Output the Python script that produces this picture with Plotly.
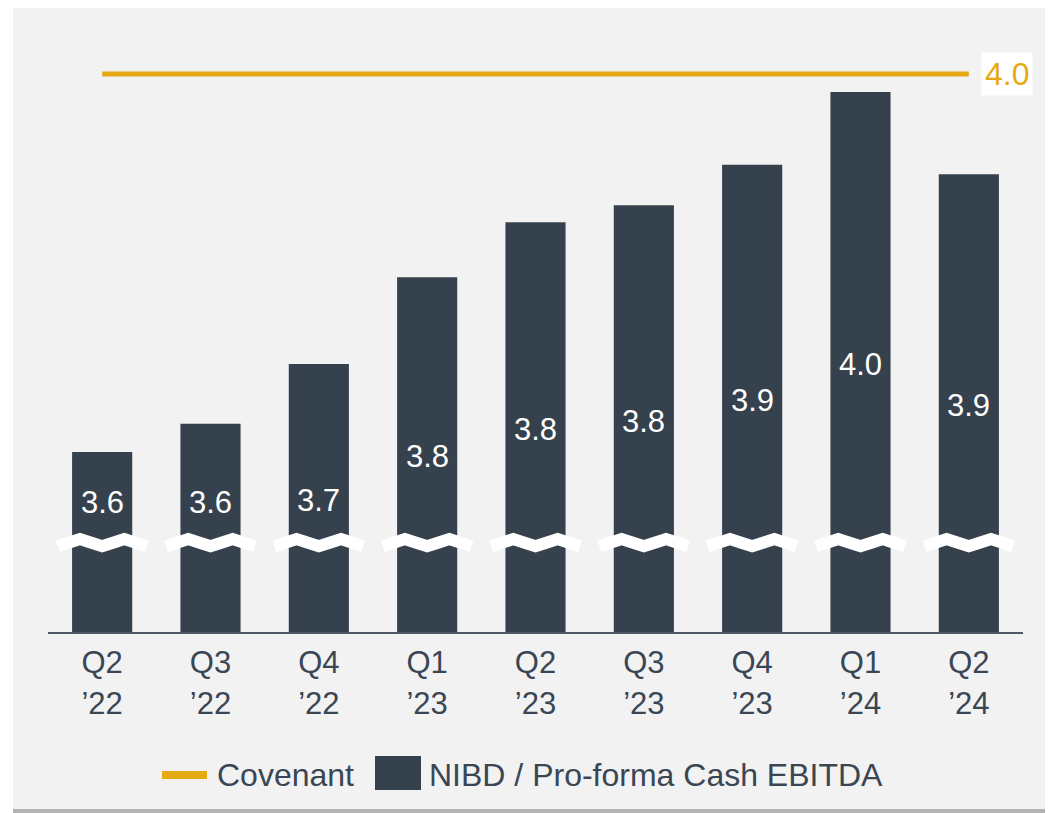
import plotly.graph_objects as go

# ---- data ----
quarters = ["Q2<br>’22", "Q3<br>’22", "Q4<br>’22", "Q1<br>’23", "Q2<br>’23",
            "Q3<br>’23", "Q4<br>’23", "Q1<br>’24", "Q2<br>’24"]
leverage = [3.600, 3.630, 3.693, 3.785, 3.843, 3.861, 3.904, 3.981, 3.894]
leverage_labels = ["3.6", "3.6", "3.7", "3.8", "3.8", "3.8", "3.9", "4.0", "3.9"]
covenant = [4.0, 4.0, 4.0, 4.0, 4.0, 4.0, 4.0, 4.0, 4.0]
covenant_label = "4.0"

# ---- style ----
GOLD = "#E6A813"
BAR = "#36414E"
TEXT = "#3A4654"
PANEL = "#F2F2F2"
FONT = "Liberation Sans, Arial, sans-serif"

y_min = 3.4095
y_max = 4.036
break_val = 3.504

OFF = 8  # page body margin
W, H = 1045, 805
ml, mr, mt, mb = 40, 30, 32, 181
pw = W - ml - mr
ph = H - mt - mb

def px_x(p):
    return (p - OFF - ml) / pw

def px_y(p):
    return (H - mb - (p - OFF)) / ph

xs = list(range(len(quarters)))

fig = go.Figure()

fig.add_trace(go.Bar(
    x=xs, y=leverage, marker=dict(color=BAR, line=dict(width=0)),
    width=0.555, name="NIBD / Pro-forma Cash EBITDA", showlegend=False,
    hoverinfo="skip",
))

# break marks
for i in xs:
    offs = [-0.41, -0.31, -0.205, -0.10, 0.0, 0.10, 0.205, 0.31, 0.41]
    amp = 0.0038
    ys = [break_val - amp, break_val, break_val + amp, break_val, break_val - amp,
          break_val, break_val + amp, break_val, break_val - amp]
    fig.add_trace(go.Scatter(
        x=[i + o for o in offs], y=ys, mode="lines",
        line=dict(color="white", width=12),
        showlegend=False, hoverinfo="skip",
    ))

fig.add_trace(go.Scatter(
    x=xs, y=covenant, mode="lines", line=dict(color=GOLD, width=5),
    name="Covenant", showlegend=False, hoverinfo="skip",
))

# value labels inside bars
for i, (v, lab) in enumerate(zip(leverage, leverage_labels)):
    ly = max((v + y_min - 0.005) / 2, y_min + 0.137)
    fig.add_annotation(x=i, y=ly, text=lab, showarrow=False,
                       font=dict(color="white", size=31, family=FONT))

# covenant label
fig.add_annotation(x=xs[-1], y=covenant[-1], text=covenant_label, showarrow=False,
                   xshift=38, bgcolor="white", borderpad=3,
                   font=dict(color=GOLD, size=32, family=FONT))

# background panel + shadow
fig.add_shape(type="rect", xref="paper", yref="paper", layer="below",
              x0=px_x(13), x1=px_x(1070), y0=px_y(816), y1=px_y(809),
              fillcolor="#B4B4B4", line=dict(width=0))
fig.add_shape(type="rect", xref="paper", yref="paper", layer="below",
              x0=px_x(13), x1=px_x(1070), y0=px_y(809), y1=px_y(7),
              fillcolor=PANEL, line=dict(width=0))

# custom legend
fig.add_shape(type="line", xref="paper", yref="paper",
              x0=px_x(162), x1=px_x(207), y0=px_y(775), y1=px_y(775),
              line=dict(color=GOLD, width=8))
fig.add_annotation(xref="paper", yref="paper", x=px_x(215), y=px_y(775),
                   xanchor="left", yanchor="middle", text="Covenant", showarrow=False,
                   font=dict(color=TEXT, size=32, family=FONT))
fig.add_shape(type="rect", xref="paper", yref="paper",
              x0=px_x(375), x1=px_x(421), y0=px_y(790), y1=px_y(756),
              fillcolor=BAR, line=dict(width=0))
fig.add_annotation(xref="paper", yref="paper", x=px_x(427), y=px_y(775),
                   xanchor="left", yanchor="middle",
                   text="NIBD / Pro-forma Cash EBITDA", showarrow=False,
                   font=dict(color=TEXT, size=32, family=FONT))

fig.update_layout(
    width=W, height=H,
    margin=dict(l=ml, r=mr, t=mt, b=mb),
    paper_bgcolor="white", plot_bgcolor="rgba(0,0,0,0)",
    font=dict(family=FONT, color=TEXT),
    showlegend=False,
    xaxis=dict(range=[-0.5, len(quarters) - 0.5], tickvals=xs, ticktext=quarters,
               showgrid=False, zeroline=False, showline=True,
               linecolor="#4F5966", linewidth=2,
               ticks="outside", ticklen=2, tickcolor="rgba(0,0,0,0)",
               tickfont=dict(size=31, color=TEXT, family=FONT), fixedrange=True),
    yaxis=dict(range=[y_min, y_max], visible=False, showgrid=False, fixedrange=True),
)

fig.write_html("out.html")
